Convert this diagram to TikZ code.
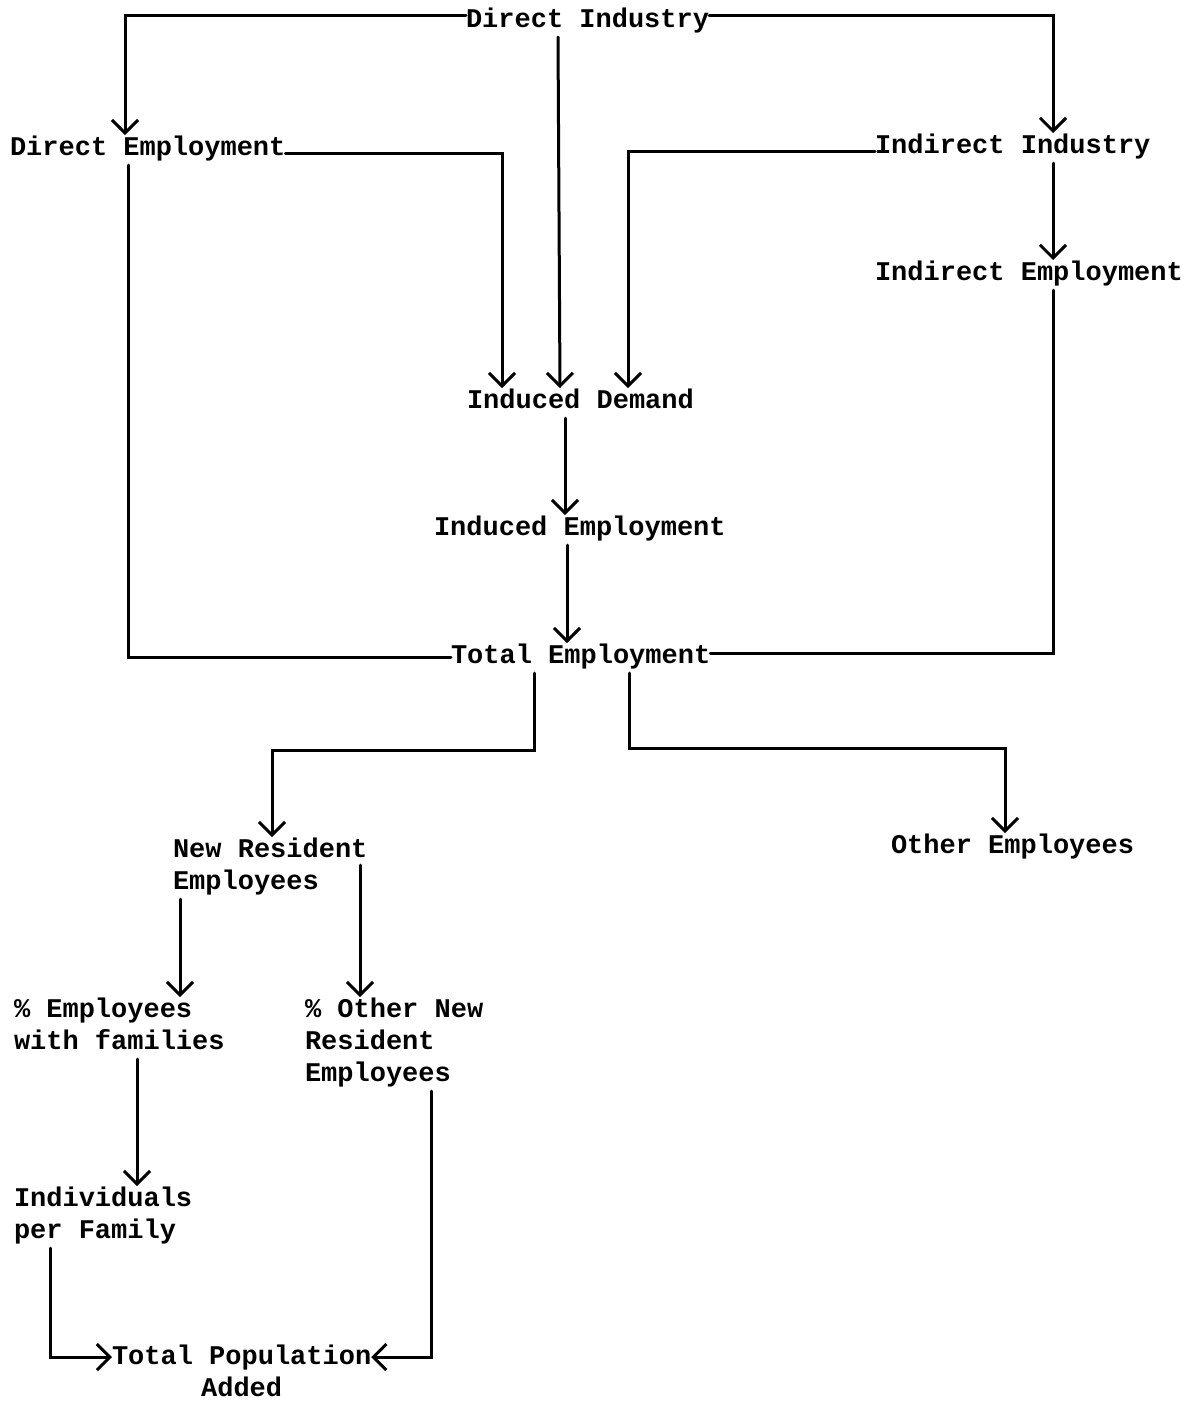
\documentclass[tikz,border=0pt]{standalone}
\usepackage{fontspec}
\setmainfont{Liberation Mono}
\usetikzlibrary{arrows.meta}
\newcommand\twfont{\fontsize{27}{32}\selectfont\bfseries}
\begin{document}
\begin{tikzpicture}[x=1pt,y=-1pt,
  lbl/.style={inner sep=0pt, outer sep=0pt, anchor=north west, font=\twfont, align=left},
  conn/.style={line width=3pt, line cap=round, line join=miter},
  arr/.style={conn, -{Straight Barb[length=13pt,width=26pt]}}]
\useasboundingbox[fill=white] (0,0) rectangle (1199,1401);
% nodes (north west at text centre - 15)
\node[lbl] (di)  at (466,5)    {\strut Direct Industry};
\node[lbl] (de)  at (10,133)   {\strut Direct Employment};
\node[lbl] (ii)  at (875,131)  {\strut Indirect Industry};
\node[lbl] (ie)  at (875,258)  {\strut Indirect Employment};
\node[lbl] (id)  at (467,386)  {\strut Induced Demand};
\node[lbl] (ine) at (434,513)  {\strut Induced Employment};
\node[lbl] (te)  at (451,641)  {\strut Total Employment};
\node[lbl] (nr)  at (173,835)  {\strut New Resident\\Employees\strut};
\node[lbl] (oe)  at (891,831)  {\strut Other Employees};
\node[lbl] (pe)  at (14,995)   {\strut\% Employees\\with families\strut};
\node[lbl] (po)  at (305,995)  {\strut\% Other New\\Resident\\Employees\strut};
\node[lbl] (ip)  at (14,1184)  {\strut Individuals\\per Family\strut};
\node[lbl, align=center] (tp) at (112,1342) {\strut Total Population\\Added\strut};
% connectors
\draw[arr] ([yshift=6pt]di.west) -| ([xshift=115pt,yshift=-2pt]de.north west);
\draw[arr] ([yshift=6pt]di.east) -| ([xshift=178pt,yshift=-2pt]ii.north west);
\draw[arr] ([xshift=92pt]di.south west) -- ([xshift=93pt,yshift=-2pt]id.north west);
\draw[arr] ([yshift=-4pt]de.east) -| ([xshift=35pt,yshift=-2pt]id.north west);
\draw[arr] ([yshift=-4pt]ii.west) -| ([xshift=161pt,yshift=-2pt]id.north west);
\draw[arr] ([xshift=178pt]ii.south west) -- ([xshift=178pt,yshift=-2pt]ie.north west);
\draw[conn] ([xshift=118pt]de.south west) |- (te.west);
\draw[conn] ([xshift=178pt]ie.south west) |- ([yshift=4pt]te.east);
\draw[arr] ([xshift=98pt]id.south west) -- ([xshift=131pt,yshift=-2pt]ine.north west);
\draw[arr] ([xshift=133pt]ine.south west) -- ([xshift=116pt,yshift=-2pt]te.north west);
\draw[arr] ([xshift=83pt]te.south west) -- ++(0,77) -| ([xshift=99pt,yshift=-2pt]nr.north west);
\draw[arr] ([xshift=178pt]te.south west) -- ++(0,75) -| ([xshift=114pt,yshift=-2pt]oe.north west);
\draw[arr] ([xshift=7pt]nr.south west) -- ([xshift=166pt,yshift=-2pt]pe.north west);
\draw[arr] ([xshift=187pt,yshift=-30pt]nr.north west) -- ([xshift=55pt,yshift=-2pt]po.north west);
\draw[arr] ([xshift=123pt]pe.south west) -- ([xshift=123pt,yshift=-2pt]ip.north west);
\draw[arr] ([xshift=36pt]ip.south west) |- ([yshift=-15pt]tp.north west);
\draw[arr] ([xshift=126pt]po.south west) |- ([yshift=-15pt]tp.north east);
\end{tikzpicture}
\end{document}
